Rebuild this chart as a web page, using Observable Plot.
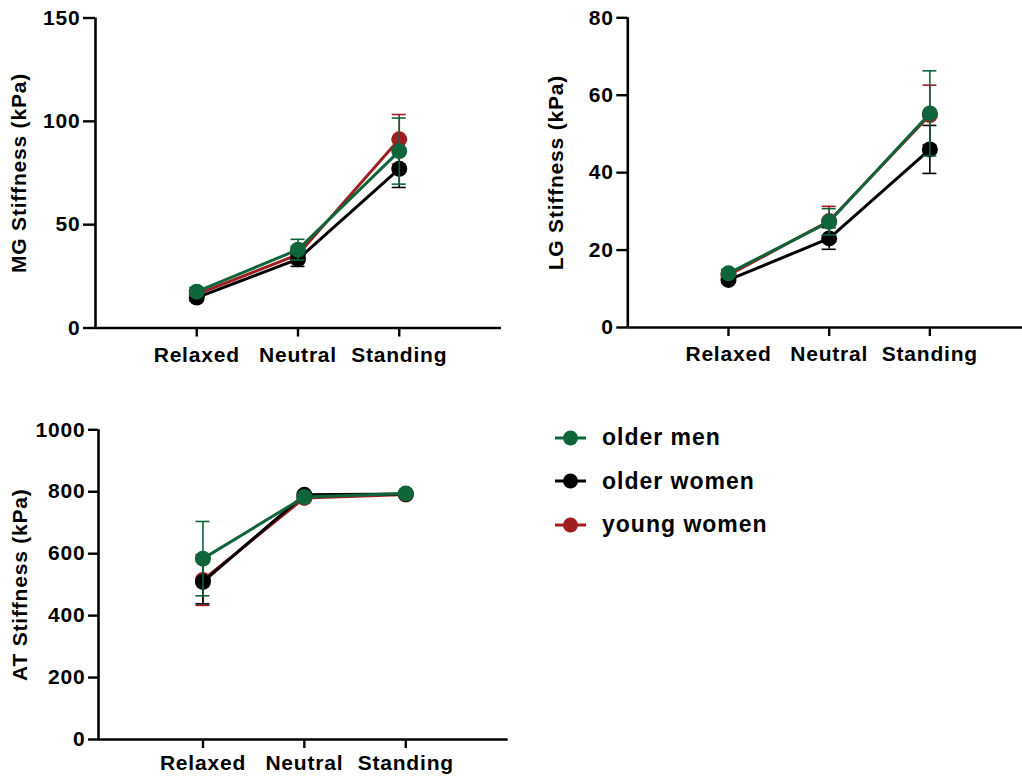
<!DOCTYPE html>
<html>
<head>
<meta charset="utf-8">
<script src="https://cdn.jsdelivr.net/npm/d3@7"></script>
<script src="https://cdn.jsdelivr.net/npm/@observablehq/plot@0.6"></script>
<style>
  html, body { margin: 0; padding: 0; background: #fff; }
  #root { position: relative; width: 1022px; height: 779px; overflow: hidden;
          font-family: "Liberation Sans", Arial, Helvetica, sans-serif; }
  #root svg text { letter-spacing: 0.8px; }
  .panel { position: absolute; }
  #legend { position: absolute; left: 555px; top: 416px; }
  .item { display: flex; align-items: center; height: 43.5px; }
  .item span { font-weight: bold; font-size: 23px; letter-spacing: 1px; color: #000; margin-left: 16px; }
</style>
</head>
<body>
<div id="root">
  <div id="p1" class="panel" style="left:0;top:0"></div>
  <div id="p2" class="panel" style="left:511px;top:0"></div>
  <div id="p3" class="panel" style="left:0;top:390px"></div>
  <div id="legend"></div>
</div>
<script>
// ---- data ----
const categories = ["Relaxed", "Neutral", "Standing"];
const groups = ["older men", "older women", "young women"];
const groupColors = ["#0e653a", "#000000", "#a01e22"];
const drawOrder = ["young women", "older women", "older men"];

// MG stiffness (kPa): mean and error
const mgOlderMen = [17.6, 37.9, 85.6];
const mgOlderMenErr = [2, 5, 16];
const mgOlderWomen = [14.7, 33.3, 77.0];
const mgOlderWomenErr = [1.5, 3.5, 9];
const mgYoungWomen = [16.3, 35.5, 91.3];
const mgYoungWomenErr = [2, 4, 12];

// LG stiffness (kPa)
const lgOlderMen = [14.0, 27.3, 55.3];
const lgOlderMenErr = [1, 3.4, 11];
const lgOlderWomen = [12.3, 23.0, 46.0];
const lgOlderWomenErr = [0.8, 2.8, 6.2];
const lgYoungWomen = [13.5, 27.5, 54.9];
const lgYoungWomenErr = [1, 3.8, 7.7];

// AT stiffness (kPa)
const atOlderMen = [584, 783, 794];
const atOlderMenErr = [120, 8, 5];
const atOlderWomen = [509, 790, 793];
const atOlderWomenErr = [71, 8, 5];
const atYoungWomen = [515, 780, 791];
const atYoungWomenErr = [82, 8, 5];

const mgTicks = [0, 50, 100, 150];
const lgTicks = [0, 20, 40, 60, 80];
const atTicks = [0, 200, 400, 600, 800, 1000];

// ---- helpers ----
function rows(series) {
  const out = [];
  for (const [group, vals, errs] of series) {
    vals.forEach((v, i) => out.push({cat: categories[i], idx: i, group, value: v, err: errs[i]}));
  }
  return out;
}

const font = '"Liberation Sans", Arial, Helvetica, sans-serif';

function panel(el, data, opts) {
  const marks = [];
  const capHalf = 7 / opts.step;
  marks.push(Plot.ruleY([0], {strokeWidth: 2.6, stroke: "#000"}));
  marks.push(Plot.ruleX([opts.xDomain[0]], {strokeWidth: 2.6, stroke: "#000"}));
  marks.push(Plot.axisX({
    ticks: [0, 1, 2], tickFormat: i => categories[i], tickSize: 9, tickPadding: opts.xPad,
    strokeWidth: 2.4, label: null, fontSize: 21, fontWeight: "bold"
  }));
  marks.push(Plot.axisY({
    ticks: opts.yTicks, tickFormat: d => String(d), tickSize: opts.tickY, tickPadding: 3,
    strokeWidth: 2.4, label: opts.label, labelAnchor: "center", labelArrow: "none",
    labelOffset: opts.labelOffset, fontSize: 21, fontWeight: "bold"
  }));
  for (const g of drawOrder) {
    const d = data.filter(r => r.group === g);
    const c = groupColors[groups.indexOf(g)];
    marks.push(Plot.ruleX(d, {x: "idx", y1: r => r.value - r.err, y2: r => r.value + r.err, stroke: c, strokeWidth: 1.6}));
    marks.push(Plot.ruleY(d, {y: r => r.value + r.err, x1: r => r.idx - capHalf, x2: r => r.idx + capHalf, stroke: c, strokeWidth: 1.6}));
    marks.push(Plot.ruleY(d, {y: r => r.value - r.err, x1: r => r.idx - capHalf, x2: r => r.idx + capHalf, stroke: c, strokeWidth: 1.6}));
    marks.push(Plot.line(d, {x: "idx", y: "value", stroke: c, strokeWidth: 3}));
    marks.push(Plot.dot(d, {x: "idx", y: "value", fill: c, r: 8}));
  }
  const svg = Plot.plot({
    width: opts.width, height: opts.height,
    marginLeft: opts.ml, marginRight: opts.mr, marginTop: opts.mt, marginBottom: opts.mb,
    x: {type: "linear", domain: opts.xDomain},
    y: {type: "linear", domain: opts.yDomain},
    style: {fontFamily: font, fontSize: "21px", fontWeight: "bold", color: "#000", background: "transparent", overflow: "visible"},
    marks
  });
  el.appendChild(svg);
}

const mgData = rows([
  ["older men", mgOlderMen, mgOlderMenErr],
  ["older women", mgOlderWomen, mgOlderWomenErr],
  ["young women", mgYoungWomen, mgYoungWomenErr]
]);
const lgData = rows([
  ["older men", lgOlderMen, lgOlderMenErr],
  ["older women", lgOlderWomen, lgOlderWomenErr],
  ["young women", lgYoungWomen, lgYoungWomenErr]
]);
const atData = rows([
  ["older men", atOlderMen, atOlderMenErr],
  ["older women", atOlderWomen, atOlderWomenErr],
  ["young women", atYoungWomen, atYoungWomenErr]
]);

panel(document.getElementById("p1"), mgData, {
  width: 511, height: 390, ml: 95, mr: 10, mt: 17.5, mb: 62.5,
  xDomain: [-1, 3.01], step: 101.2, yDomain: [0, 150], yTicks: mgTicks,
  label: "MG Stiffness (kPa)", labelOffset: 84, tickY: 12, xPad: 10
});
panel(document.getElementById("p2"), lgData, {
  width: 511, height: 390, ml: 116.3, mr: 0, mt: 17.3, mb: 63,
  xDomain: [-1, 2.92], step: 100.7, yDomain: [0, 80], yTicks: lgTicks,
  label: "LG Stiffness (kPa)", labelOffset: 80, tickY: 11, xPad: 10
});
panel(document.getElementById("p3"), atData, {
  width: 511, height: 389, ml: 98, mr: 3.3, mt: 39.3, mb: 40,
  xDomain: [-1.03, 3.01], step: 101.4, yDomain: [0, 1000], yTicks: atTicks,
  label: "AT Stiffness (kPa)", labelOffset: 86, tickY: 10, xPad: 7
});

// ---- legend ----
const legend = document.getElementById("legend");
groups.forEach((g, i) => {
  const item = document.createElement("div");
  item.className = "item";
  const c = groupColors[i];
  item.innerHTML = `<svg width="31" height="20" viewBox="0 0 31 20"><line x1="0" y1="10" x2="31" y2="10" stroke="${c}" stroke-width="3"/><circle cx="15.5" cy="10" r="7.5" fill="${c}"/></svg><span>${g}</span>`;
  legend.appendChild(item);
});
</script>
</body>
</html>
